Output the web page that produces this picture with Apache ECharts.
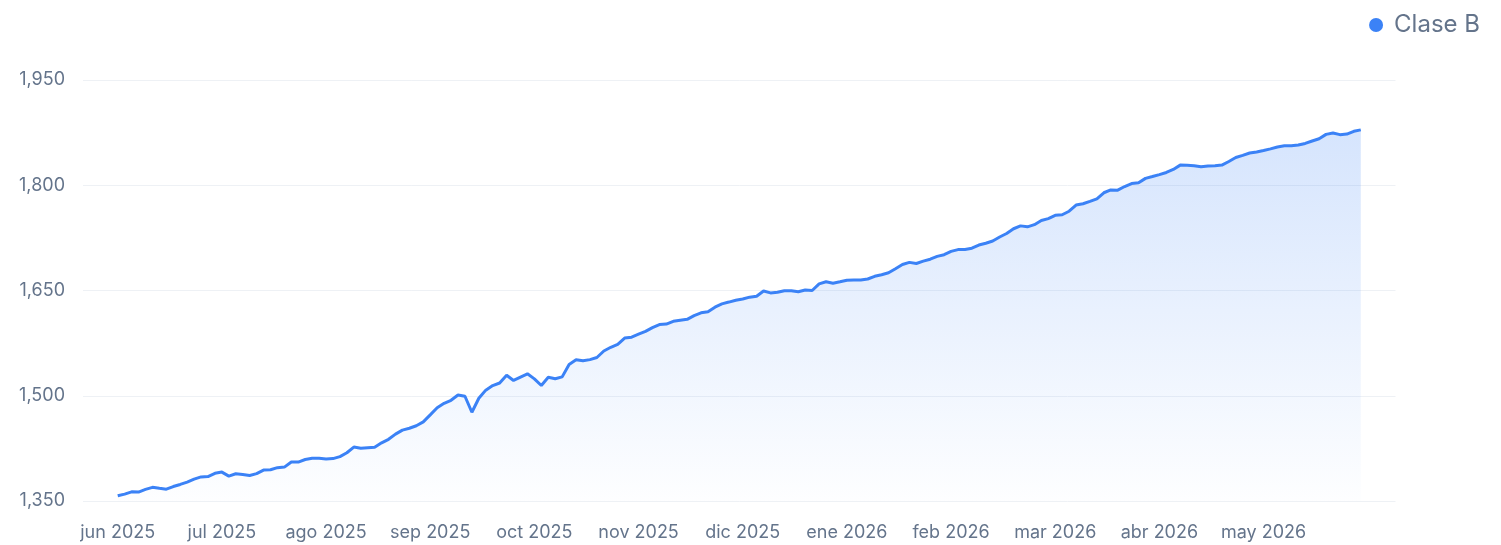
<!DOCTYPE html>
<html>
<head>
<meta charset="utf-8">
<script src="https://cdn.jsdelivr.net/npm/echarts@6/dist/echarts.min.js"></script>
<style>
  html, body { margin: 0; padding: 0; background: #ffffff; }
  #chart { width: 1501px; height: 545px; }
</style>
</head>
<body>
<div id="chart"></div>
<script>
// Month tick labels (one every 15 points)
const monthLabels = ['jun 2025', 'jul 2025', 'ago 2025', 'sep 2025', 'oct 2025', 'nov 2025',
  'dic 2025', 'ene 2026', 'feb 2026', 'mar 2026', 'abr 2026', 'may 2026'];
const pointsPerMonth = 15;

// Series values (Clase B)
const claseB = [
  1357.4, 1359.8, 1363.1, 1362.7, 1366.5, 1369.5, 1368.1, 1366.8, 1370.6, 1373.6,
  1376.9, 1381.1, 1384.3, 1384.8, 1389.5, 1391.2, 1385.5, 1388.8, 1387.8, 1386.4,
  1389.0, 1394.1, 1394.5, 1397.5, 1398.3, 1405.6, 1405.5, 1409.1, 1410.9, 1411.0,
  1410.0, 1410.4, 1413.3, 1418.8, 1426.9, 1425.2, 1425.9, 1426.6, 1432.9, 1437.9,
  1445.3, 1451.0, 1453.7, 1457.2, 1462.8, 1472.7, 1482.9, 1489.2, 1493.5, 1501.1,
  1499.3, 1476.5, 1496.4, 1508.0, 1514.5, 1518.2, 1529.3, 1521.8, 1526.6, 1531.3,
  1524.0, 1514.6, 1526.3, 1524.3, 1526.9, 1544.6, 1551.2, 1549.8, 1551.5, 1554.5,
  1563.8, 1569.1, 1573.2, 1582.2, 1583.5, 1587.7, 1591.7, 1597.0, 1601.4, 1602.1,
  1606.1, 1607.6, 1608.9, 1614.2, 1618.2, 1619.7, 1626.3, 1631.0, 1633.5, 1636.1,
  1637.8, 1640.5, 1641.9, 1649.3, 1646.6, 1647.4, 1649.7, 1649.6, 1648.2, 1650.6,
  1650.0, 1659.5, 1662.5, 1660.4, 1662.4, 1664.6, 1664.8, 1664.9, 1666.4, 1670.2,
  1672.5, 1675.2, 1681.0, 1687.0, 1690.1, 1688.5, 1691.8, 1694.6, 1698.6, 1701.0,
  1705.7, 1708.3, 1708.3, 1710.3, 1714.8, 1717.4, 1720.5, 1726.2, 1731.2, 1738.0,
  1742.1, 1740.7, 1743.8, 1749.8, 1752.5, 1757.1, 1757.9, 1763.0, 1771.8, 1773.6,
  1777.0, 1780.7, 1789.3, 1793.3, 1793.0, 1798.2, 1802.4, 1803.4, 1809.8, 1812.4,
  1815.2, 1818.2, 1822.5, 1828.7, 1828.6, 1827.9, 1826.3, 1827.4, 1827.7, 1828.7,
  1833.8, 1839.5, 1842.5, 1845.9, 1847.5, 1849.6, 1851.8, 1854.6, 1856.2, 1856.2,
  1857.4, 1859.6, 1863.1, 1866.3, 1872.5, 1874.5, 1872.1, 1872.9, 1876.9, 1878.9
];

// Y axis ticks
const yMin = 1350, yMax = 1950, yStep = 150;

// Empty slots before/after the series so the line sits inside the plot area
const pad = 5;
const categories = [];
for (let i = 0; i < claseB.length + 2 * pad; i++) categories.push(String(i - pad));
const lineData = [];
for (let i = 0; i < pad; i++) lineData.push(null);
for (const v of claseB) lineData.push(v);
for (let i = 0; i < pad; i++) lineData.push(null);

const isMonthTick = (idx) => {
  const i = idx - pad;
  return i >= 0 && i % pointsPerMonth === 0 && (i / pointsPerMonth) < monthLabels.length;
};

const chart = echarts.init(document.getElementById('chart'), null, { renderer: 'canvas' });
chart.setOption({
  animation: false,
  backgroundColor: '#ffffff',
  textStyle: { fontFamily: 'Inter, "Noto Sans", sans-serif' },
  legend: {
    data: ['Clase B'],
    right: 16,
    top: 8,
    icon: 'circle',
    itemWidth: 14,
    itemHeight: 14,
    itemGap: 10,
    textStyle: { color: '#64748b', fontSize: 24, fontFamily: 'Inter', padding: [0, 0, 0, 6] }
  },
  grid: { left: 83, right: 105.5, top: 80, bottom: 44, containLabel: false },
  xAxis: {
    type: 'category',
    data: categories,
    boundaryGap: false,
    axisLine: { show: false },
    axisTick: { show: false },
    splitLine: { show: false },
    axisLabel: {
      interval: (idx) => isMonthTick(idx),
      formatter: (val, idx) => isMonthTick(idx) ? monthLabels[(idx - pad) / pointsPerMonth] : '',
      color: '#64748b',
      fontSize: 18,
      fontFamily: 'Inter',
      margin: 23
    }
  },
  yAxis: {
    type: 'value',
    min: yMin,
    max: yMax,
    interval: yStep,
    axisLine: { show: false },
    axisTick: { show: false },
    splitLine: { lineStyle: { color: '#eef1f5', width: 1 } },
    axisLabel: {
      color: '#64748b',
      fontSize: 18,
      fontFamily: 'Inter',
      margin: 18,
      formatter: (v) => v.toLocaleString('en-US')
    }
  },
  series: [{
    name: 'Clase B',
    type: 'line',
    data: lineData,
    showSymbol: false,
    symbol: 'circle',
    smooth: false,
    connectNulls: false,
    itemStyle: { color: '#3b82f6' },
    lineStyle: { color: '#3b82f6', width: 3 },
    areaStyle: {
      color: new echarts.graphic.LinearGradient(0, 0, 0, 1, [
        { offset: 0, color: 'rgba(59,130,246,0.30)' },
        { offset: 1, color: 'rgba(59,130,246,0.01)' }
      ])
    }
  }]
});
</script>
</body>
</html>
